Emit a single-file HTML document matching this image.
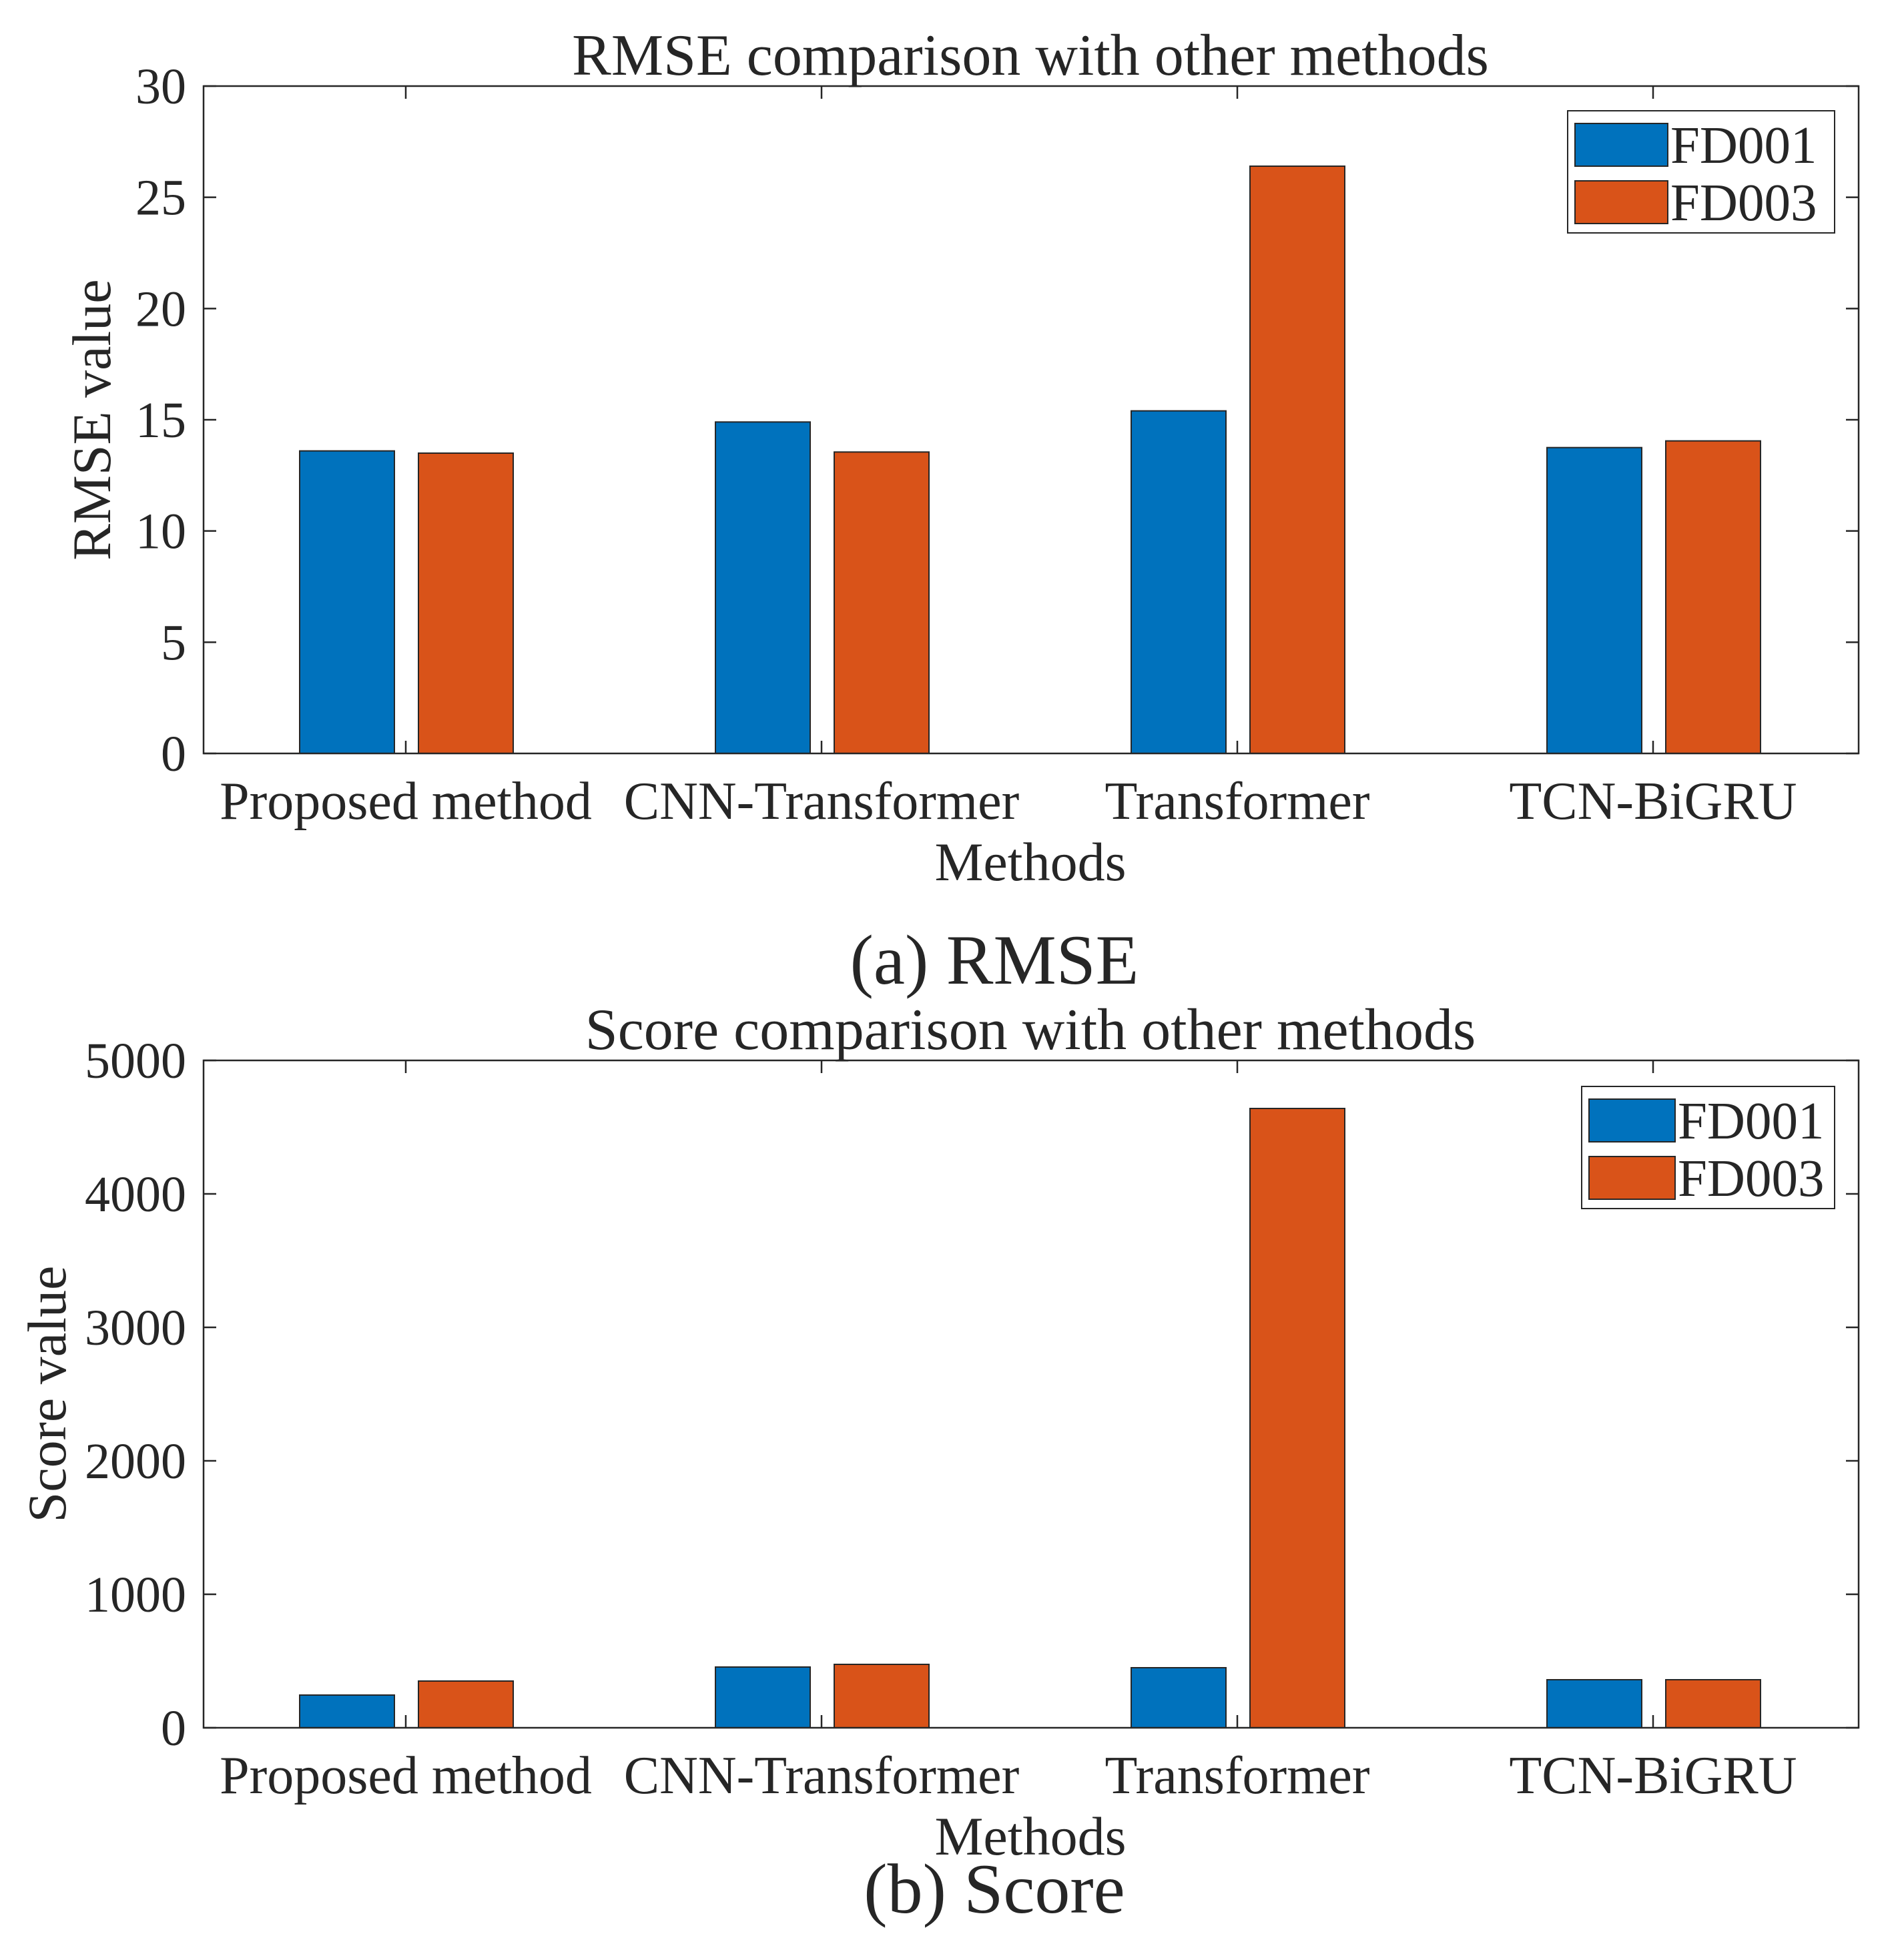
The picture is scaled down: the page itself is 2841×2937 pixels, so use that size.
<!DOCTYPE html>
<html><head><meta charset="utf-8"><style>
html,body{margin:0;padding:0;background:#fff;}
svg text{font-family:"Liberation Serif",serif;fill:#262626;}
</style></head><body>
<svg id="fig" width="2841" height="2932" viewBox="0 0 2841 2932" xmlns="http://www.w3.org/2000/svg"></svg>
<script>
const categories=["Proposed method","CNN-Transformer","Transformer","TCN-BiGRU"];
const seriesNames=["FD001","FD003"];
const rmseFD001=[13.6,14.9,15.4,13.75];
const rmseFD003=[13.5,13.55,26.4,14.05];
const scoreFD001=[245,455,450,360];
const scoreFD003=[350,475,4640,360];
const rmseTicks=[0,5,10,15,20,25,30];
const scoreTicks=[0,1000,2000,3000,4000,5000];
const colors=["#0072BD","#D95319"];
const NS="http://www.w3.org/2000/svg";
const svg=document.getElementById('fig');
function mk(tag,attrs,parent){const e=document.createElementNS(NS,tag);for(const k in attrs)e.setAttribute(k,attrs[k]);(parent||svg).appendChild(e);return e;}
function txt(s,attrs,parent){const e=mk('text',attrs,parent);e.textContent=s;return e;}
function chart(cfg){
  const g=mk('g',{});
  
  
  const L=305,R=2785,T=cfg.top,B=cfg.top+1000;
  const ymax=cfg.ticks[cfg.ticks.length-1];
  const y=v=>B-(v/ymax)*(B-T);
  const xc=i=>608+623*i;
  const offs=[-88,90],bw=142;
  [cfg.s1,cfg.s2].forEach((arr,si)=>{
    arr.forEach((v,i)=>{
      const r=mk('rect',{x:xc(i)+offs[si]-bw/2,y:y(v),width:bw,height:B-y(v),fill:colors[si],stroke:'#262626','stroke-width':2},g);
      
      
    });
  });
  const box=mk('rect',{x:L,y:T,width:R-L,height:B-T,fill:'none',stroke:'#262626','stroke-width':2.5},g);
  
  
  cfg.ticks.forEach(t=>{
    mk('line',{x1:L,x2:L+19,y1:y(t),y2:y(t),stroke:'#262626','stroke-width':2.5},g);
    mk('line',{x1:R,x2:R-19,y1:y(t),y2:y(t),stroke:'#262626','stroke-width':2.5},g);
    const tl=txt(String(t),{x:279,y:y(t)+26,'font-size':76,'text-anchor':'end'},g);
    
    
  });
  categories.forEach((c,i)=>{
    mk('line',{x1:xc(i),x2:xc(i),y1:B,y2:B-19,stroke:'#262626','stroke-width':2.5},g);
    mk('line',{x1:xc(i),x2:xc(i),y1:T,y2:T+19,stroke:'#262626','stroke-width':2.5},g);
    const cl=txt(c,{x:xc(i),y:B+98,'font-size':80,'text-anchor':'middle'},g);
    
    
  });
  const ti=txt(cfg.title,{x:1544,y:T-17,'font-size':88,'text-anchor':'middle',fill:'#000'},g);
  
  
  const xl=txt('Methods',{x:1544,y:B+190,'font-size':82,'text-anchor':'middle'},g);
  
  
  const yl=txt(cfg.ylabel,{x:0,y:0,'font-size':82,'text-anchor':'middle',transform:`translate(${cfg.ylx},${(T+B)/2}) rotate(-90)`},g);
  
  
  const cap=txt(cfg.caption,{x:1490,y:cfg.capy,'font-size':106,'text-anchor':'middle',fill:'#000'},g);
  
  
  const lg=mk('g',{},g);
  
  
  const lx=cfg.legX,ly=T+cfg.legDy;
  mk('rect',{x:lx,y:ly,width:2749-lx,height:183,fill:'#fff',stroke:'#262626','stroke-width':2},lg);
  seriesNames.forEach((n,si)=>{
    const p=mk('rect',{x:lx+11,y:ly+19+si*86,width:cfg.patchW,height:64,fill:colors[si],stroke:'#262626','stroke-width':2},lg);
    
    
    const t=txt(n,{x:lx+cfg.patchW+15,y:ly+78+si*86,'font-size':79,fill:'#000'},lg);
    
    
  });
}
chart({name:'rmse-chart',top:129,ticks:rmseTicks,s1:rmseFD001,s2:rmseFD003,title:'RMSE comparison with other methods',ylabel:'RMSE value',ylx:165,caption:'(a) RMSE',capy:1474,legX:2349,legDy:37,patchW:139});
chart({name:'score-chart',top:1589,ticks:scoreTicks,s1:scoreFD001,s2:scoreFD003,title:'Score comparison with other methods',ylabel:'Score value',ylx:98,caption:'(b) Score',capy:2866,legX:2370,legDy:39,patchW:129});
</script>
</body></html>
